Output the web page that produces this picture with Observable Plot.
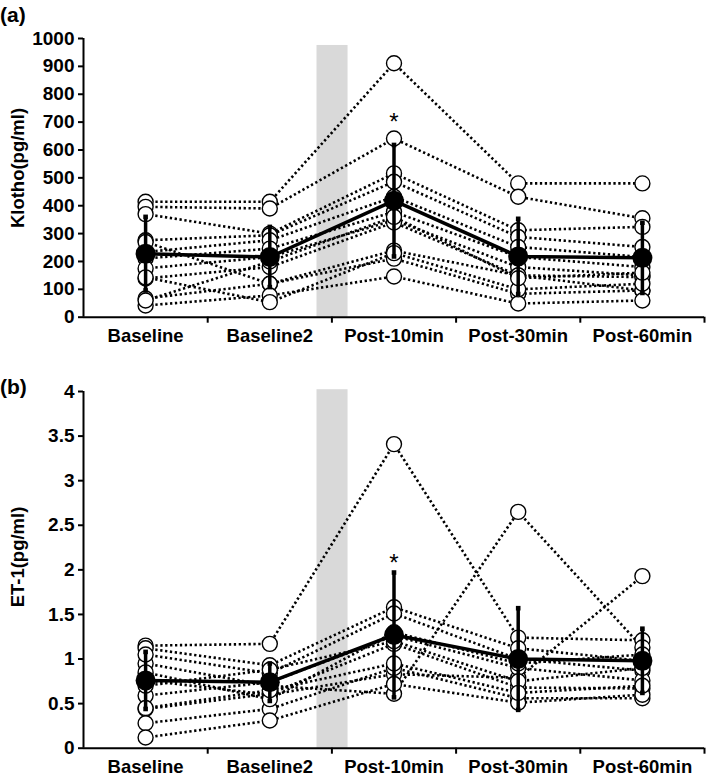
<!DOCTYPE html>
<html>
<head>
<meta charset="utf-8">
<script src="https://cdn.jsdelivr.net/npm/d3@7"></script>
<script src="https://cdn.jsdelivr.net/npm/@observablehq/plot@0.6"></script>
<style>
  html, body { margin: 0; padding: 0; background: #fff; }
  #wrap { position: relative; width: 709px; height: 777px; font-family: "Liberation Sans", Arial, sans-serif; }
  .panel { position: absolute; left: 0; z-index: 1; }
  .plabel { position: absolute; left: 0; font-weight: bold; font-size: 21px; line-height: 1; z-index: 2; }
  .ylab { position: absolute; font-weight: bold; font-size: 18.5px; white-space: nowrap; transform: translate(-50%, -50%) rotate(-90deg); z-index: 2; }
</style>
</head>
<body>
<div id="wrap">
  <div id="pa" class="panel" style="top:0;"></div>
  <div id="pb" class="panel" style="top:355px;"></div>
  <div class="plabel" style="top:4px;">(a)</div>
  <div class="plabel" style="top:376px;">(b)</div>
  <div class="ylab" style="left:18px; top:168px;">Klotho(pg/ml)</div>
  <div class="ylab" style="left:18px; top:557px;">ET-1(pg/ml)</div>
</div>
<script>
const timepoints = ["Baseline", "Baseline2", "Post-10min", "Post-30min", "Post-60min"];

// Panel (a): Klotho (pg/ml), individual subjects
const klothoSubjects = [
  [414, 414, 911, 480, 480],
  [396, 390, 641, 432, 355],
  [370, 300, 516, 312, 324],
  [276, 294, 486, 288, 252],
  [234, 276, 432, 252, 216],
  [211, 246, 378, 216, 180],
  [175, 216, 348, 180, 150],
  [139, 180, 340, 150, 144],
  [270, 120, 239, 150, 96],
  [67, 120, 210, 84, 96],
  [42, 78, 146, 49, 60],
  [143, 54, 230, 100, 120],
  [60, 200, 360, 140, 160]
];
const klothoMean = [228, 216, 418, 218, 213];
const klothoSD = [132, 108, 200, 135, 126];
const klothoStar = [null, null, 698, null, null];
const klothoTicks = [0, 100, 200, 300, 400, 500, 600, 700, 800, 900, 1000];

// Panel (b): ET-1 (pg/ml), individual subjects
const et1Subjects = [
  [1.15, 1.17, 3.41, 1.24, 1.21],
  [0.95, 0.70, 0.61, 2.65, 1.13],
  [0.76, 0.60, 0.83, 0.79, 1.93],
  [1.12, 0.93, 1.58, 1.12, 0.98],
  [1.05, 0.84, 1.51, 1.00, 0.87],
  [0.59, 0.74, 1.26, 0.90, 0.76],
  [0.44, 0.61, 1.17, 0.68, 0.67],
  [0.28, 0.44, 0.90, 0.56, 0.56],
  [0.12, 0.31, 0.72, 0.51, 0.60],
  [0.85, 0.55, 1.30, 0.95, 1.05],
  [0.70, 0.88, 1.20, 0.75, 0.90],
  [0.45, 0.65, 0.95, 0.62, 0.70]
];
const et1Mean = [0.76, 0.74, 1.27, 1.00, 0.98];
const et1SD = [0.32, 0.21, 0.70, 0.57, 0.36];
const et1Star = [null, null, 2.07, null, null];
const et1Ticks = [0, 0.5, 1, 1.5, 2, 2.5, 3, 3.5, 4];

// Exercise (intervention) period shown as grey band between Baseline2 and Post-10min
const interventionBand = { start: 1.88, end: 2.13 };

function makePanel(subjects, mean, sd, star, ticks, yMax, bandTop, height, mTop, mBottom) {
  const pts = [];
  subjects.forEach((row, s) => row.forEach((v, i) => pts.push({ s, i, x: i + 0.5, v })));
  const ms = mean.map((m, i) => ({ x: i + 0.5, m, lo: m - sd[i], hi: m + sd[i] }));
  const stars = star.map((v, i) => ({ x: i + 0.5, v })).filter(d => d.v != null);
  const font = "Liberation Sans, Arial, sans-serif";
  return Plot.plot({
    width: 709,
    height,
    marginLeft: 83,
    marginRight: 5,
    marginTop: mTop,
    marginBottom: mBottom,
    style: { fontFamily: font, fontWeight: "bold", fontSize: "18px", color: "#000", background: "transparent" },
    x: { type: "linear", domain: [0, 5], axis: null },
    y: { domain: [0, yMax], axis: null },
    marks: [
      Plot.rect([interventionBand], { x1: "start", x2: "end", y1: 0, y2: bandTop, fill: "#d9d9d9" }),
      Plot.line(pts, { x: "x", y: "v", z: "s", stroke: "#000", strokeWidth: 2.6, strokeDasharray: "2.3 2.6", strokeLinecap: "butt" }),
      Plot.dot(pts, { x: "x", y: "v", r: 7.5, fill: "#fff", stroke: "#000", strokeWidth: 1.4 }),
      Plot.line(ms, { x: "x", y: "m", stroke: "#000", strokeWidth: 3.5 }),
      Plot.ruleX(ms, { x: "x", y1: "lo", y2: "hi", stroke: "#000", strokeWidth: 3.5 }),
      Plot.dot(ms, { x: "x", y: "hi", symbol: "square", r: 2.6, fill: "#000" }),
      Plot.dot(ms, { x: "x", y: "lo", symbol: "square", r: 2.6, fill: "#000" }),
      Plot.dot(ms, { x: "x", y: "m", r: 10, fill: "#000" }),
      Plot.text(stars, { x: "x", y: "v", text: () => "*", fontSize: 24, fontWeight: "normal", fill: "#000" }),
      Plot.ruleX([0], { stroke: "#000", strokeWidth: 2 }),
      Plot.ruleY([0], { stroke: "#000", strokeWidth: 2 }),
      Plot.axisY({ ticks, tickSize: 5, tickPadding: 4, tickFormat: d => String(d), label: null, fontWeight: "bold", fontSize: 19, strokeWidth: 2 }),
      Plot.axisX({ ticks: [1, 2, 3, 4, 5], tickSize: 6, tickFormat: () => "", label: null, strokeWidth: 2 }),
      Plot.axisX({ ticks: [0.5, 1.5, 2.5, 3.5, 4.5], tickSize: 0, tickPadding: 12, tickFormat: d => timepoints[Math.floor(d)], label: null, fontWeight: "bold", fontSize: 18.5 })
    ]
  });
}

document.getElementById("pa").appendChild(
  makePanel(klothoSubjects, klothoMean, klothoSD, klothoStar, klothoTicks, 1000, 975, 355, 38, 38.3)
);
document.getElementById("pb").appendChild(
  makePanel(et1Subjects, et1Mean, et1SD, et1Star, et1Ticks, 4, 4.02, 422, 36, 29.3)
);
</script>
</body>
</html>
